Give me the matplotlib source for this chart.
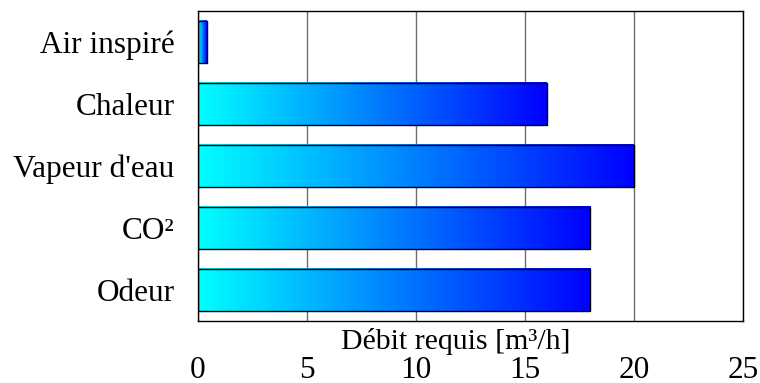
import numpy as np
import matplotlib
matplotlib.use('Agg')
import matplotlib.pyplot as plt
from matplotlib.colors import LinearSegmentedColormap

plt.rcParams['font.family'] = ['Liberation Serif', 'DejaVu Serif']

# Required air flow per criterion
categories = ['Air inspiré', 'Chaleur', "Vapeur d'eau", 'CO²', 'Odeur']
flow = [0.4, 16, 20, 18, 18]
x_ticks = [0, 5, 10, 15, 20, 25]

bar_h = 0.68
grad = LinearSegmentedColormap.from_list('cyanblue', ['#00ffff', '#0000ff'])
ramp = np.linspace(0, 1, 256).reshape(1, -1)

fig = plt.figure(figsize=(7.6, 3.83), dpi=100)
ax = fig.add_axes([198/760, 1 - 321/383, (743-198)/760, (321-11)/383])

ypos = np.arange(len(categories))
bars = ax.barh(ypos, flow, height=bar_h, facecolor='none', edgecolor='black',
               linewidth=1.0, zorder=4)

# fill each bar with its own horizontal gradient
for b in bars:
    x0, y0 = b.get_x(), b.get_y()
    w, h = b.get_width(), b.get_height()
    ax.imshow(ramp, cmap=grad, aspect='auto', extent=(x0, x0 + w, y0 + h, y0),
              interpolation='bicubic', zorder=3)

ax.set_xlim(0, 25)
ax.set_ylim(len(categories) - 0.5, -0.5)
ax.set_xticks(x_ticks)
ax.set_yticks(ypos)
ax.set_yticklabels(categories)
ax.tick_params(axis='both', length=0)
ax.tick_params(axis='x', pad=25, labelsize=22.5)
ax.tick_params(axis='y', pad=17, labelsize=22.5)

ax.grid(axis='x', color='#6e6e6e', linewidth=1.0, zorder=1)
ax.set_axisbelow(True)
for s in ax.spines.values():
    s.set_color('black')
    s.set_linewidth(1.0)
    s.set_zorder(5)

ax.set_xlabel('Débit requis [m³/h]', fontsize=21.5)
ax.xaxis.set_label_coords(0.473, -0.09)
ax.xaxis.label.set_verticalalignment('baseline')

fig.savefig('out.png', dpi=100)
